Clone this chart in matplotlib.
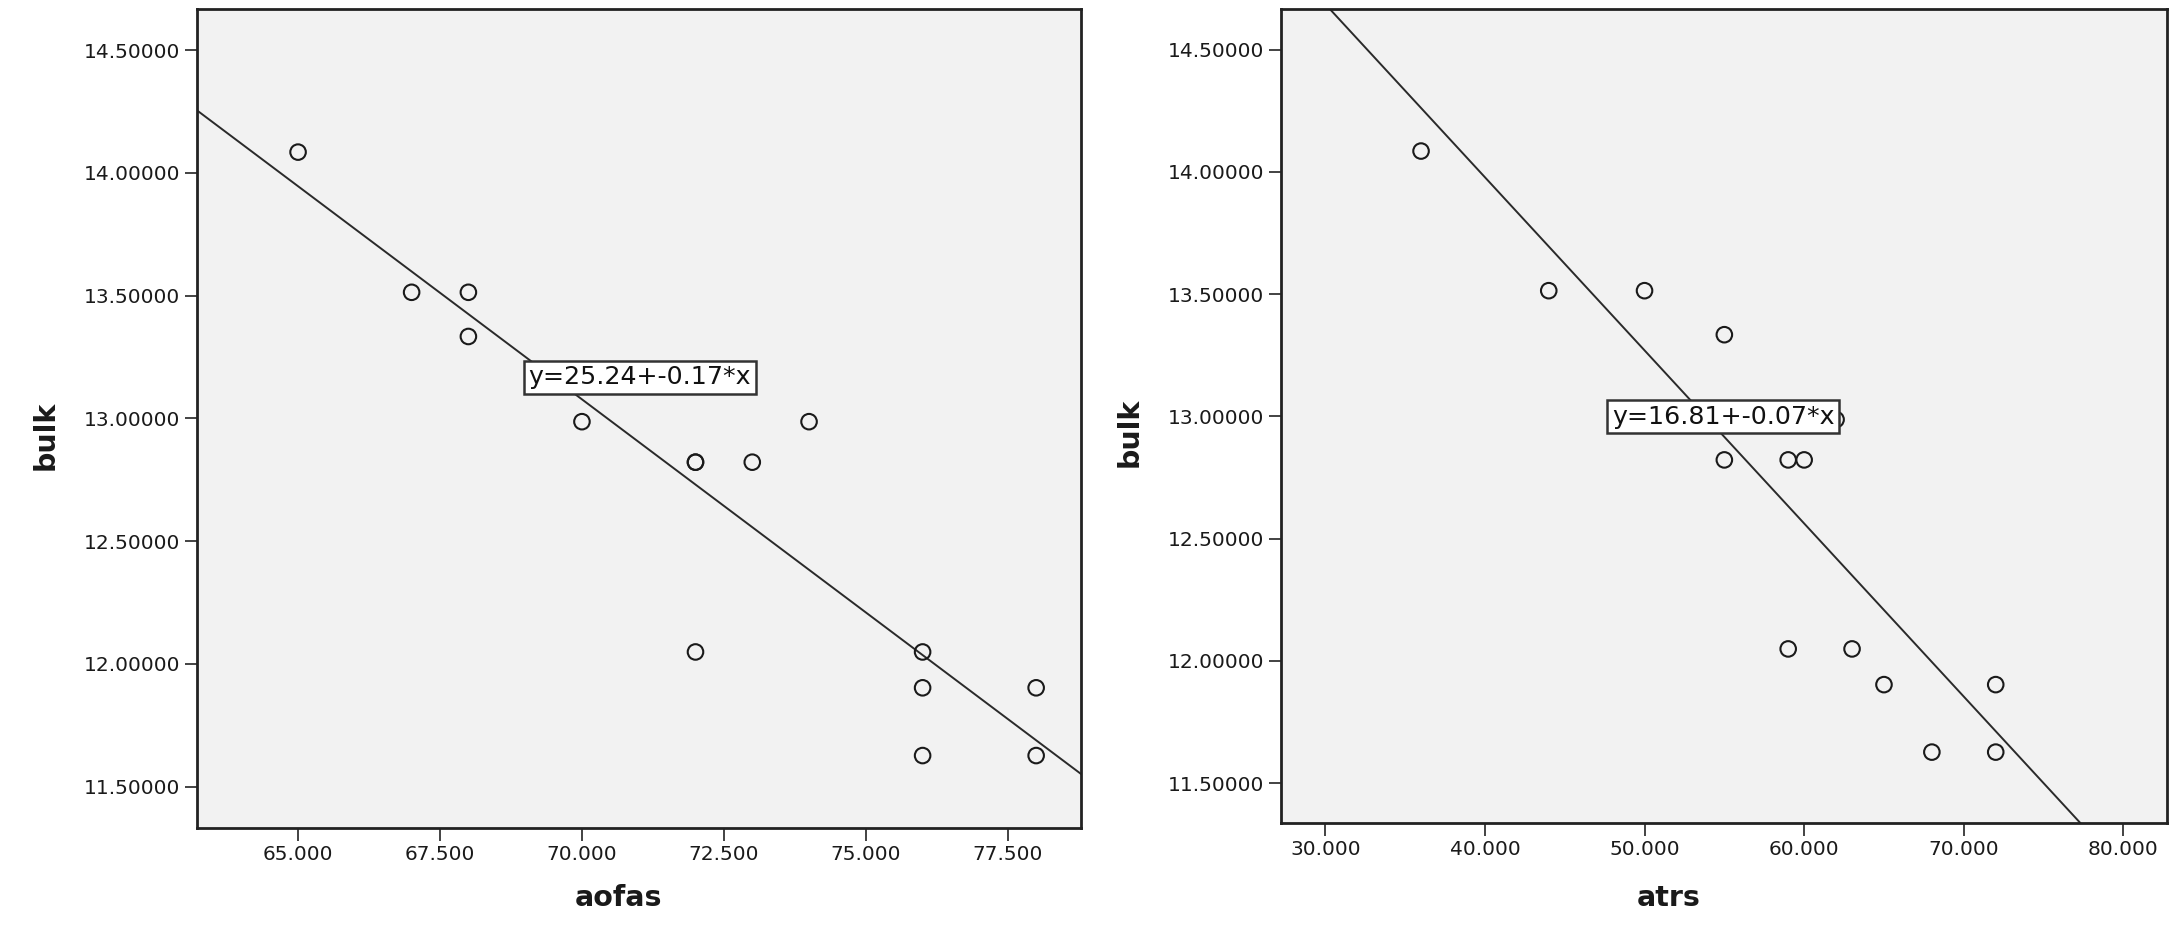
import numpy as np
import matplotlib
matplotlib.use('Agg')
from matplotlib import pyplot as plt
from matplotlib.ticker import FormatStrFormatter

# * Data
aofas = [65, 67, 68, 68, 70, 72, 72, 73, 74, 72, 76, 76, 76, 78, 78]
bulk_aofas = [14.085, 13.514, 13.514, 13.334, 12.987, 12.822, 12.822, 12.822,
              12.987, 12.049, 12.049, 11.903, 11.627, 11.903, 11.627]

atrs = [36, 44, 50, 55, 55, 59, 60, 62, 59, 63, 65, 72, 68, 72]
bulk_atrs = [14.085, 13.514, 13.514, 13.334, 12.822, 12.822, 12.822, 12.987,
             12.049, 12.049, 11.903, 11.903, 11.627, 11.627]

# * Fit lines (intercept, slope) and their labels
fit_aofas = (25.23, -0.1736)
fit_atrs = (16.81, -0.0708)
label_aofas = 'y=25.24+-0.17*x'
label_atrs = 'y=16.81+-0.07*x'

y_ticks = [11.5, 12.0, 12.5, 13.0, 13.5, 14.0, 14.5]
x_ticks_aofas = [65, 67.5, 70, 72.5, 75, 77.5]
x_ticks_atrs = [30, 40, 50, 60, 70, 80]

plt.rcParams['font.family'] = ['DejaVu Sans']

fig = plt.figure(figsize=(21.72, 9.36), dpi=100)
ax1 = fig.add_axes([0.0907, 0.1154, 0.4070, 0.875])
ax2 = fig.add_axes([0.5898, 0.1207, 0.4079, 0.8697])


def draw_panel(ax, x, y, fit, label, label_pos, xticks, xlim, ylim, xlabel, xlab_x, xlab_y):
    ax.set_facecolor('#f2f2f2')
    ax.scatter(x, y, s=125, facecolors='none', edgecolors='#1a1a1a',
               linewidths=1.5, zorder=3)
    ax.axline((0, fit[0]), slope=fit[1], color='#2a2a2a', lw=1.4, zorder=2)
    ax.text(label_pos[0], label_pos[1], label, ha='center', va='center',
            fontsize=18.2, color='#111111', zorder=5,
            bbox=dict(boxstyle='square,pad=0.18', facecolor='white',
                      edgecolor='#333333', linewidth=1.8))
    ax.set_xlim(*xlim)
    ax.set_ylim(*ylim)
    ax.set_xticks(xticks)
    ax.set_yticks(y_ticks)
    ax.xaxis.set_major_formatter(FormatStrFormatter('%.3f'))
    ax.yaxis.set_major_formatter(FormatStrFormatter('%.5f'))
    ax.tick_params(length=9, width=1.2, color='#222222', labelsize=14.5,
                   labelcolor='#1a1a1a', pad=3)
    for s in ax.spines.values():
        s.set_linewidth(2.0)
        s.set_color('#222222')
    ax.set_xlabel(xlabel, fontsize=20.5, fontweight='bold', color='#1a1a1a')
    ax.set_ylabel('bulk', fontsize=20.5, fontweight='bold', color='#1a1a1a')
    ax.xaxis.set_label_coords(xlab_x, xlab_y)
    ax.xaxis.label.set_va('center')
    ax.yaxis.set_label_coords(-0.171, 0.48)
    ax.yaxis.label.set_va('center')


draw_panel(ax1, aofas, bulk_aofas, fit_aofas, label_aofas, (71.02, 13.167),
           x_ticks_aofas, (63.22, 78.79), (11.332, 14.668), 'aofas', 0.477, -0.0855)
draw_panel(ax2, atrs, bulk_atrs, fit_atrs, label_atrs, (54.92, 12.998),
           x_ticks_atrs, (27.23, 82.73), (11.337, 14.666), 'atrs', 0.438, -0.092)

fig.savefig('out.png', dpi=100)
